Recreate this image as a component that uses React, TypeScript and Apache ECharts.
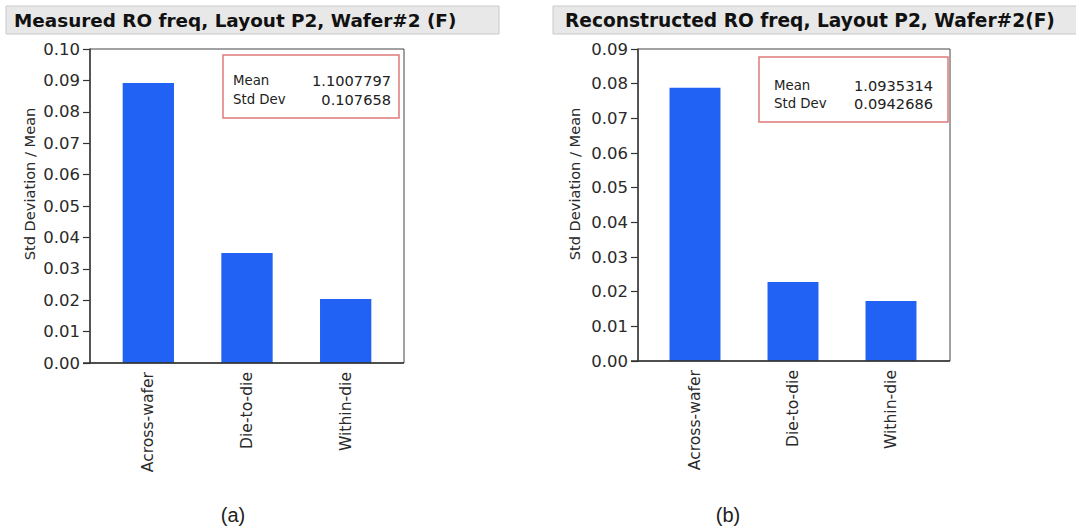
import React, { useEffect, useRef } from "react";
import * as echarts from "echarts";

const categories = ["Across-wafer", "Die-to-die", "Within-die"];
const measuredValues = [0.0892, 0.035, 0.0204];
const reconstructedValues = [0.0788, 0.0228, 0.0173];
const measuredAxisMax = 0.1;
const reconstructedAxisMax = 0.09;
const axisInterval = 0.01;
const statLabels = ["Mean", "Std Dev"];
const measuredStats = ["1.1007797", "0.107658"];
const reconstructedStats = ["1.0935314", "0.0942686"];
const titles = [
  "Measured RO freq, Layout P2, Wafer#2 (F)",
  "Reconstructed RO freq, Layout P2, Wafer#2(F)",
];
const yAxisTitle = "Std Deviation / Mean";
const panelTags = ["(a)", "(b)"];

const FONT = "DejaVu Sans";
const BAR = "#2162f5";
const AXIS = "#333333";

export default function App() {
  const ref = useRef<HTMLDivElement>(null);
  useEffect(() => {
    if (!ref.current) return;
    const chart = echarts.init(ref.current, null, { renderer: "svg" });

    const panels = [
      { frameL: 90, frameR: 404, top: 49, bottom: 363, gridL: 99, gridR: 395, max: measuredAxisMax, values: measuredValues,
        titleBar: [6, 499], titleX: 14, titleSize: 18.4, box: [223, 55, 176, 63], boxTextL: 233, boxTextR: 391, rowY: [80, 99],
        nameX: 29, tagX: 233, stats: measuredStats },
      { frameL: 638, frameR: 950, top: 49, bottom: 361, gridL: 646, gridR: 940, max: reconstructedAxisMax, values: reconstructedValues,
        titleBar: [553, 1080], titleX: 565, titleSize: 18.6, box: [759, 57, 189, 65], boxTextL: 774, boxTextR: 933, rowY: [85, 103],
        nameX: 574, tagX: 728, stats: reconstructedStats },
    ];

    const grids: any[] = [];
    const xAxes: any[] = [];
    const yAxes: any[] = [];
    const series: any[] = [];
    const graphics: any[] = [];

    panels.forEach((p, i) => {
      grids.push({ left: p.gridL, width: p.gridR - p.gridL, top: p.top, height: p.bottom - p.top });
      xAxes.push({
        type: "category", gridIndex: i, data: categories,
        axisLine: { show: false }, axisTick: { show: false },
        axisLabel: { rotate: 90, interval: 0, margin: 9, fontSize: 15.6, fontFamily: FONT, color: "#2a2a2a" },
      });
      yAxes.push({
        type: "value", gridIndex: i, min: 0, max: p.max, interval: axisInterval, offset: p.gridL - p.frameL,
        axisLine: { show: true, lineStyle: { color: AXIS, width: 1.5 } },
        axisTick: { show: true, length: 7, lineStyle: { color: AXIS, width: 1.2 } },
        axisLabel: { margin: 10, fontSize: 16.5, fontFamily: FONT, color: "#2a2a2a", formatter: (v: number) => v.toFixed(2) },
        splitLine: { show: false },
      });
      series.push({
        type: "bar", xAxisIndex: i, yAxisIndex: i, data: p.values, barWidth: "52%",
        itemStyle: { color: BAR },
      });
      // frame
      graphics.push({
        type: "rect", z: 10,
        shape: { x: p.frameL, y: p.top, width: p.frameR - p.frameL, height: p.bottom - p.top },
        style: { fill: "none", stroke: "#444", lineWidth: 1 },
      });
      graphics.push({
        type: "line", z: 11,
        shape: { x1: p.frameL - 7, y1: p.bottom, x2: p.frameR, y2: p.bottom },
        style: { stroke: AXIS, lineWidth: 1.5 },
      });
      // title bar
      graphics.push({
        type: "rect", z: 5,
        shape: { x: p.titleBar[0], y: 6, width: p.titleBar[1] - p.titleBar[0], height: 28 },
        style: { fill: "#e8e8e8", stroke: "#c9c9c9", lineWidth: 1 },
      });
      graphics.push({
        type: "text", z: 6, x: p.titleX, y: 20,
        style: { text: titles[i], font: `bold ${p.titleSize}px "${FONT}"`, fill: "#111", textAlign: "left", textVerticalAlign: "middle" },
      });
      // stats box
      graphics.push({
        type: "rect", z: 12,
        shape: { x: p.box[0], y: p.box[1], width: p.box[2], height: p.box[3] },
        style: { fill: "#fff", stroke: "#e07a7a", lineWidth: 1.5 },
      });
      statLabels.forEach((lab, k) => {
        graphics.push({
          type: "text", z: 13, x: p.boxTextL, y: p.rowY[k],
          style: { text: lab, font: `13.3px "${FONT}"`, fill: "#222", textAlign: "left", textVerticalAlign: "middle" },
        });
        graphics.push({
          type: "text", z: 13, x: p.boxTextR, y: p.rowY[k],
          style: { text: p.stats[k], font: `14.6px "${FONT}"`, fill: "#222", textAlign: "right", textVerticalAlign: "middle" },
        });
      });
      // y axis title
      graphics.push({
        type: "text", z: 6, x: p.nameX, y: 184, rotation: Math.PI / 2,
        style: { text: yAxisTitle, font: `14.6px "${FONT}"`, fill: "#2a2a2a", textAlign: "center", textVerticalAlign: "middle" },
      });
      // panel tag
      graphics.push({
        type: "text", z: 6, x: p.tagX, y: 515,
        style: { text: panelTags[i], font: `20px "Liberation Sans"`, fill: "#222", textAlign: "center", textVerticalAlign: "middle" },
      });
    });

    chart.setOption({
      animation: false,
      backgroundColor: "#ffffff",
      grid: grids,
      xAxis: xAxes,
      yAxis: yAxes,
      series,
      graphic: graphics,
    });
    return () => chart.dispose();
  }, []);
  return <div ref={ref} style={{ position: "fixed", left: 0, top: 0, width: 1076, height: 527 }} />;
}
